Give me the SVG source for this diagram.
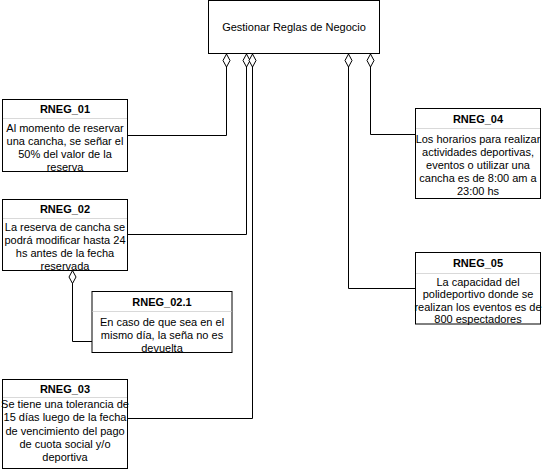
<svg xmlns="http://www.w3.org/2000/svg" width="542" height="476" viewBox="0 0 542 476">
<defs>
<marker id="dia" markerUnits="userSpaceOnUse" markerWidth="16" markerHeight="10" refX="0" refY="4" orient="auto" viewBox="0 0 16 10">
<path d="M0,4 L6.5,0.5 L13,4 L6.5,7.5 Z" fill="#ffffff" stroke="#000000" stroke-width="1"/>
</marker>
<style>
.box{fill:#ffffff;stroke:#000000;stroke-width:1}
.sep{stroke:#d9d9d9;stroke-width:1;fill:none}
.t{font-family:"Liberation Sans",Arial,sans-serif;font-size:11px;fill:#000000;text-anchor:middle}
.b{font-weight:bold}
.c{fill:none;stroke:#000000;stroke-width:1;marker-start:url(#dia)}
</style>
</defs>
<rect width="542" height="476" fill="#ffffff"/>
<g id="connectors">
<path class="c" d="M226.5,54 L226.5,135.5 L127.5,135.5"/>
<path class="c" d="M246.5,54 L246.5,234.5 L127.5,234.5"/>
<path class="c" d="M252.5,54 L252.5,418.5 L127.5,418.5"/>
<path class="c" d="M348.5,54 L348.5,288.5 L415.5,288.5"/>
<path class="c" d="M370.5,54 L370.5,134.5 L415.5,134.5"/>
<path class="c" d="M72.5,270.5 L72.5,341.5 L92,341.5"/>
</g>
<g id="main">
<rect class="box" x="208.5" y="0.5" width="171" height="53"/>
<text class="t" x="294" y="31">Gestionar Reglas de Negocio</text>
</g>
<g id="rneg01">
<rect class="box" x="2.5" y="99.5" width="125" height="72"/>
<line class="sep" x1="3" y1="118.5" x2="127" y2="118.5"/>
<text class="t b" x="65" y="113">RNEG_01</text>
<text class="t" x="65" y="131.5">Al momento de reservar</text>
<text class="t" x="65" y="144.7">una cancha, se señar el</text>
<text class="t" x="65" y="157.9">50% del valor de la</text>
<text class="t" x="65" y="171.1">reserva</text>
</g>
<g id="rneg02">
<rect class="box" x="2.5" y="199.5" width="125" height="71"/>
<line class="sep" x1="3" y1="218.5" x2="127" y2="218.5"/>
<text class="t b" x="65" y="213">RNEG_02</text>
<text class="t" x="65" y="230.5">La reserva de cancha se</text>
<text class="t" x="65" y="243.7">podrá modificar hasta 24</text>
<text class="t" x="65" y="256.9">hs antes de la fecha</text>
<text class="t" x="65" y="270.1">reservada</text>
</g>
<g id="rneg021">
<rect class="box" x="92" y="291.5" width="140" height="61"/>
<line class="sep" x1="92.5" y1="311.5" x2="231.5" y2="311.5"/>
<text class="t b" x="162" y="305.5">RNEG_02.1</text>
<text class="t" x="162" y="325.5">En caso de que sea en el</text>
<text class="t" x="162" y="338.7">mismo día, la seña no es</text>
<text class="t" x="162" y="351.9">devuelta</text>
</g>
<g id="rneg03">
<rect class="box" x="2.5" y="379.5" width="125" height="89"/>
<line class="sep" x1="3" y1="397.5" x2="127" y2="397.5"/>
<text class="t b" x="65" y="392.5">RNEG_03</text>
<text class="t" x="65" y="408">Se tiene una tolerancia de</text>
<text class="t" x="65" y="421.3">15 días luego de la fecha</text>
<text class="t" x="65" y="434.6">de vencimiento del pago</text>
<text class="t" x="65" y="447.9">de cuota social y/o</text>
<text class="t" x="65" y="461.2">deportiva</text>
</g>
<g id="rneg04">
<rect class="box" x="415.5" y="108.5" width="125" height="90"/>
<line class="sep" x1="416" y1="128.5" x2="540" y2="128.5"/>
<text class="t b" x="478" y="122.5">RNEG_04</text>
<text class="t" x="478" y="143">Los horarios para realizar</text>
<text class="t" x="478" y="156.1">actividades deportivas,</text>
<text class="t" x="478" y="169.2">eventos o utilizar una</text>
<text class="t" x="478" y="182.3">cancha es de 8:00 am a</text>
<text class="t" x="478" y="195.4">23:00 hs</text>
</g>
<g id="rneg05">
<rect class="box" x="415.5" y="252.5" width="125" height="71.5"/>
<line class="sep" x1="416" y1="273.5" x2="540" y2="273.5"/>
<text class="t b" x="478" y="267">RNEG_05</text>
<text class="t" x="478" y="285.5">La capacidad del</text>
<text class="t" x="478" y="298">polideportivo donde se</text>
<text class="t" x="478" y="310.5">realizan los eventos es de</text>
<text class="t" x="478" y="323">800 espectadores</text>
</g>
</svg>
